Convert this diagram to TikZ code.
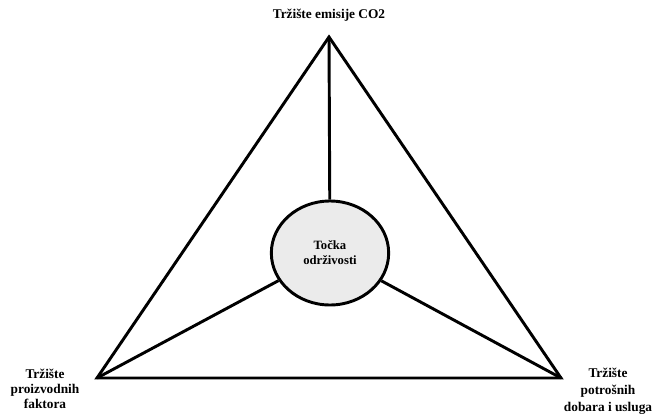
\documentclass[tikz,border=0pt]{standalone}
\usepackage{fontspec}
\setmainfont{Liberation Serif}
\usetikzlibrary{shapes.geometric}

\tikzset{
  lbl/.style={font=\fontsize{10}{12.6}\selectfont\bfseries, align=center, inner sep=0pt},
  spot/.style={ellipse, draw, line width=2.2pt, fill=black!8, minimum width=88pt,
    minimum height=78pt, inner sep=0pt, align=center,
    font=\fontsize{9.5}{11.3}\selectfont\bfseries}
}

\begin{document}
\begin{tikzpicture}[x=0.75pt, y=-0.75pt, line width=2.2pt]
            \useasboundingbox (0,0) rectangle (656,414);
            \coordinate (T) at (329,37);
            \coordinate (L) at (97,378);
            \coordinate (R) at (561,378);
            \node[spot] (S) at (330,253) {Točka\\održivosti};
            \node[lbl] (lt) at (329,15) {Tržište emisije CO2};
            \node[lbl, font=\fontsize{10}{11.5}\selectfont\bfseries] (ll) at (45,389) {Tržište\\proizvodnih\\faktora};
            \node[lbl] (lr) at (608,391) {Tržište\\potrošnih\\dobara i usluga};

            \draw (T) -- (L) -- (R) -- cycle;
            \draw (T) -- (S);
            \draw (L) -- (S);
            \draw (R) -- (S);
        \end{tikzpicture}
\end{document}
